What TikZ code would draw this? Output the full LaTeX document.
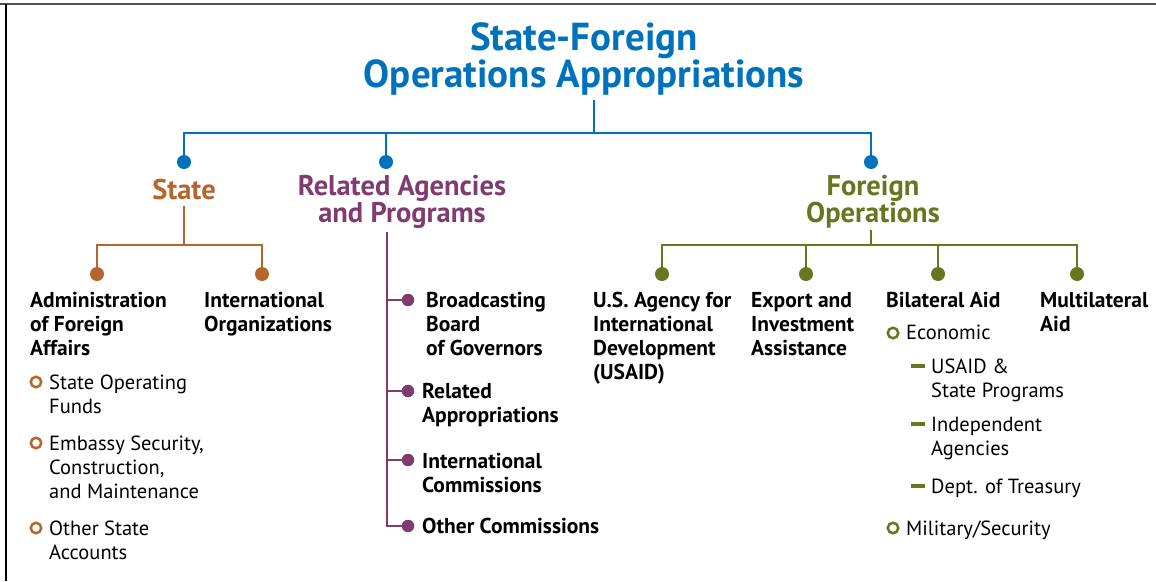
\documentclass[tikz,border=0pt]{standalone}
\usepackage{fontspec}
\setmainfont{PT Sans}
\newfontfamily\headfont{PT Sans}
\definecolor{sfblue}{RGB}{0,114,188}
\definecolor{sfbrown}{RGB}{182,102,44}
\definecolor{sfpurple}{RGB}{128,60,112}
\definecolor{sfolive}{RGB}{104,118,32}
\definecolor{sfframe}{RGB}{80,80,80}
\tikzset{
  conn/.style={draw=#1,line width=2pt},
  hub/.style={circle,fill=#1,inner sep=0pt,minimum size=14pt},
  subhub/.style={circle,fill=#1,inner sep=0pt,minimum size=12.5pt},
  ring/.style={circle,draw=#1,line width=2.5pt,inner sep=0pt,minimum size=10.5pt},
  bar/.style={fill=#1,inner sep=0pt,minimum width=14pt,minimum height=4.5pt},
  head/.style={text=#1,align=center,font=\headfont\fontsize{28.5}{27}\selectfont\bfseries},
  item/.style={anchor=north west,inner sep=0pt,align=left,font=\fontsize{21.5}{24}\selectfont\bfseries},
  subitem/.style={anchor=north west,inner sep=0pt,align=left,font=\fontsize{20.5}{24}\selectfont}
}
\begin{document}
\begin{tikzpicture}[x=1pt,y=-1pt]
\useasboundingbox (0,0) rectangle (1156,581);
\draw[sfframe,line width=2.5pt] (0,4) -- (1156,4);
\draw[black,line width=1.5pt] (6,4) -- (6,581);

\node[text=sfblue,align=center,font=\headfont\fontsize{39}{35}\selectfont\bfseries] (ttl) at (584,59) {State-Foreign\\Operations Appropriations};
\coordinate (tstem) at (594,100);
\coordinate (tbar) at (594,133);
\node[hub=sfblue] (hstate) at (184,162) {};
\node[hub=sfblue] (hrel) at (386,162) {};
\node[hub=sfblue] (hfor) at (871,162) {};
\draw[conn=sfblue] (tstem) -- (tbar) -| (hstate);
\draw[conn=sfblue] (tbar) -| (hrel);
\draw[conn=sfblue] (tbar) -| (hfor);

\node[head=sfbrown] (state) at (184,190) {State};
\node[head=sfpurple] (rel) at (402,202) {Related Agencies\\and Programs};
\node[head=sfolive] (for) at (873,202) {Foreign\\Operations};

\coordinate (sstem) at (184,206);
\coordinate (sbar) at (184,245);
\node[hub=sfbrown] (hadm) at (97,274) {};
\node[hub=sfbrown] (hint) at (262,274) {};
\draw[conn=sfbrown] (sstem) -- (sbar) -| (hadm);
\draw[conn=sfbrown] (sbar) -| (hint);
\node[item] (adm) at (30,292) {Administration\\of Foreign\\Affairs};
\node[item] (intorg) at (204,292) {International\\Organizations};
\node[ring=sfbrown] (rsof) at (36,382) {};
\node[subitem] (sof) at (49,375) {State Operating\\Funds};
\node[ring=sfbrown] (remb) at (36,443) {};
\node[subitem] (emb) at (49,436) {Embassy Security,\\Construction,\\and Maintenance};
\node[ring=sfbrown] (roth) at (36,528) {};
\node[subitem] (oth) at (49,521) {Other State\\Accounts};

\coordinate (rtop) at (387,232);
\node[subhub=sfpurple] (hbbg) at (408,300) {};
\node[subhub=sfpurple] (hrapp) at (408,391) {};
\node[subhub=sfpurple] (hicom) at (408,460) {};
\node[subhub=sfpurple] (hocom) at (408,526) {};
\draw[conn=sfpurple] (rtop) |- (hocom);
\draw[conn=sfpurple] (rtop |- hbbg) -- (hbbg);
\draw[conn=sfpurple] (rtop |- hrapp) -- (hrapp);
\draw[conn=sfpurple] (rtop |- hicom) -- (hicom);
\node[item] (bbg) at (426,292) {Broadcasting\\Board\\of Governors};
\node[item] (rapp) at (422,383) {Related\\Appropriations};
\node[item] (icom) at (422,453) {International\\Commissions};
\node[item] (ocom) at (422,518) {Other Commissions};

\coordinate (fstem) at (871,230);
\coordinate (fbar) at (871,245);
\node[hub=sfolive] (husaid) at (662,274) {};
\node[hub=sfolive] (hexp) at (806,274) {};
\node[hub=sfolive] (hbil) at (938,274) {};
\node[hub=sfolive] (hmul) at (1077,274) {};
\draw[conn=sfolive] (fstem) -- (fbar) -| (husaid);
\draw[conn=sfolive] (fbar) -| (hexp);
\draw[conn=sfolive] (fbar) -| (hbil);
\draw[conn=sfolive] (fbar) -| (hmul);
\node[item] (usaid) at (593,292) {U.S. Agency for\\International\\Development\\(USAID)};
\node[item] (exp) at (751,292) {Export and\\Investment\\Assistance};
\node[item] (bil) at (886,292) {Bilateral Aid};
\node[item] (mul) at (1040,292) {Multilateral\\Aid};
\node[ring=sfolive] (recon) at (893,333) {};
\node[subitem] (econ) at (906,325) {Economic};
\node[bar=sfolive] (bst) at (918,366) {};
\node[subitem] (stp) at (931,359) {USAID \&\\State Programs};
\node[bar=sfolive] (bind) at (918,424) {};
\node[subitem] (ind) at (931,417) {Independent\\Agencies};
\node[bar=sfolive] (btr) at (918,486) {};
\node[subitem] (tr) at (931,479) {Dept. of Treasury};
\node[ring=sfolive] (rmil) at (893,528) {};
\node[subitem] (mil) at (906,521) {Military/Security};
\end{tikzpicture}
\end{document}
